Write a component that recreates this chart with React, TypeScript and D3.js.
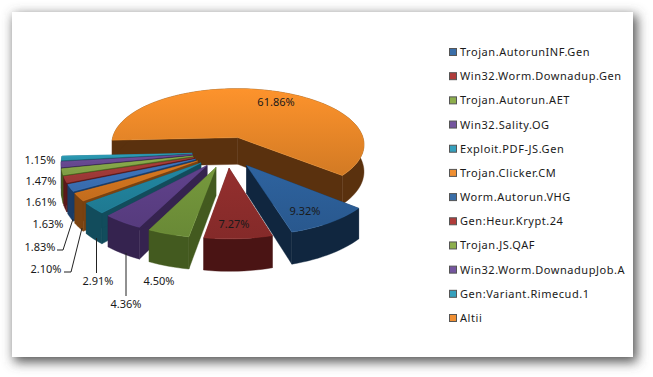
import React from "react";
import * as d3 from "d3";

const categories = ["Trojan.AutorunINF.Gen","Win32.Worm.Downadup.Gen","Trojan.Autorun.AET","Win32.Sality.OG","Exploit.PDF-JS.Gen","Trojan.Clicker.CM","Worm.Autorun.VHG","Gen:Heur.Krypt.24","Trojan.JS.QAF","Win32.Worm.DownadupJob.A","Gen:Variant.Rimecud.1","Altii"];
const shares = [9.32,7.27,4.5,4.36,2.91,2.1,1.83,1.63,1.61,1.47,1.15,61.86];
const shareLabels = ["9.32%","7.27%","4.50%","4.36%","2.91%","2.10%","1.83%","1.63%","1.61%","1.47%","1.15%","61.86%"];
const topColors = ["#2c5f98","#8e2d2c","#71933a","#5c3f86","#21829c","#d0741f","#3b72b8","#a33b39","#86a84a","#6a4b95","#2b98b2","#f28d2a"];
const sideColors = ["#10263f","#4a1414","#435a1f","#35234f","#124c5c","#7a4210","#1a3c66","#5a1a1a","#48601f","#35264f","#155566","#5a310e"];
const legendColors = ["#3a6ea8","#b03c3a","#8dae4c","#74559f","#35a0bd","#ef8f33","#3a6ea8","#b03c3a","#8dae4c","#74559f","#35a0bd","#ef8f33"];

// label layout (centre x, centre y in px) for the value labels
const labelPos: [number, number][] = [[305,211],[234,224],[159,281],[126,304],[98,281],[46,269],[40,247],[48,224],[41,202],[41,181],[40,160],[276,102]];
const leaders: [number, number][][] = [
  [[126,253],[126,296]],
  [[96.5,238],[96.5,273]],
  [[64,272],[71,272],[82,228]],
  [[57,250],[63,250],[73,219]],
];

const W = 653, H = 377;
const cx = 227, cy = 152, f = 129, fk = 58, p = 0.12, explode = 0.27, depth = 27.5;
const firstAngle = (130 * Math.PI) / 180;

const project = (X: number, Y: number, z = 0): [number, number] => {
  const s = 1 / (1 - p * Y);
  return [cx + f * X * s, cy + fk * Y * s + z * depth * s];
};

const arcs = d3.pie<number>().sort(null).value((d) => d).startAngle(firstAngle).endAngle(firstAngle + 2 * Math.PI)(shares);
const line = d3.line();

type Slice = { i: number; top: string; faces: string[] };
const slices: Slice[] = arcs.map((a, i) => {
  const mid = (a.startAngle + a.endAngle) / 2;
  const ox = explode * Math.sin(mid), oy = -explode * Math.cos(mid);
  const n = Math.max(6, Math.ceil((a.endAngle - a.startAngle) / 0.04));
  const ang = d3.range(n + 1).map((k) => a.startAngle + ((a.endAngle - a.startAngle) * k) / n);
  const rim = (z: number) => ang.map((t) => project(ox + Math.sin(t), oy - Math.cos(t), z));
  const apex = (z: number) => project(ox, oy, z);
  const top = line([apex(0), ...rim(0)])! + "Z";
  const rim0 = rim(0), rim1 = rim(1);
  const wall = line([...rim0, ...rim1.slice().reverse()])! + "Z";
  const f1 = line([apex(0), rim0[0], rim1[0], apex(1)])! + "Z";
  const f2 = line([apex(0), rim0[n], rim1[n], apex(1)])! + "Z";
  return { i, top, faces: [f1, f2, wall] };
});

// back to front: the big slice, then small ones from the left round to the front
const drawOrder = [11, 10, 9, 8, 7, 6, 5, 4, 3, 2, 0, 1];
const rowScale = d3.scaleLinear().domain([0, 11]).range([52, 318]);

export default function App() {
  return (
    <svg width={W} height={H} viewBox={`0 0 ${W} ${H}`} style={{ position: "absolute", left: 0, top: 0, background: "#fff" }}>
      <defs>
        <filter id="sh" x="-10%" y="-10%" width="120%" height="120%">
          <feGaussianBlur stdDeviation="6" />
        </filter>
        {topColors.map((c, i) => (
          <linearGradient key={i} id={`t${i}`} x1="0" y1="0" x2="0" y2="1">
            <stop offset="0" stopColor={d3.rgb(c).brighter(0.12).formatHex()} />
            <stop offset="1" stopColor={d3.rgb(c).darker(i === 11 ? 0.4 : 0.2).formatHex()} />
          </linearGradient>
        ))}
      </defs>
      <rect x={14} y={15} width={623} height={347} fill="#555" filter="url(#sh)" />
      <rect x={12} y={12} width={621} height={345} fill="#fff" />
      {drawOrder.map((i) => {
        const s = slices[i];
        return (
          <g key={i}>
            {s.faces.map((d, k) => (
              <path key={k} d={d} fill={sideColors[i]} stroke={sideColors[i]} strokeWidth={0.4} />
            ))}
            <path d={s.top} fill={`url(#t${i})`} stroke={d3.rgb(topColors[i]).brighter(0.3).formatHex()} strokeWidth={0.4} />
          </g>
        );
      })}
      {leaders.map((l, i) => (
        <path key={i} d={line(l)!} fill="none" stroke="#222" strokeWidth={1} />
      ))}
      <g fontFamily="'Noto Sans', sans-serif" fontSize={11} fill="#1a1a1a" textAnchor="middle">
        {shareLabels.map((t, i) => (
          <text key={i} x={labelPos[i][0]} y={labelPos[i][1] + 4}>{t}</text>
        ))}
      </g>
      <g fontFamily="'Noto Sans', sans-serif" fontSize={11} fill="#1a1a1a">
        {categories.map((c, i) => {
          const y = rowScale(i);
          return (
            <g key={c}>
              <rect x={449.5} y={y - 3.5} width={7} height={7} fill={legendColors[i]} stroke="#555" strokeWidth={1} />
              <text x={460} y={y + 4} letterSpacing={0.55}>{c}</text>
            </g>
          );
        })}
      </g>
    </svg>
  );
}
